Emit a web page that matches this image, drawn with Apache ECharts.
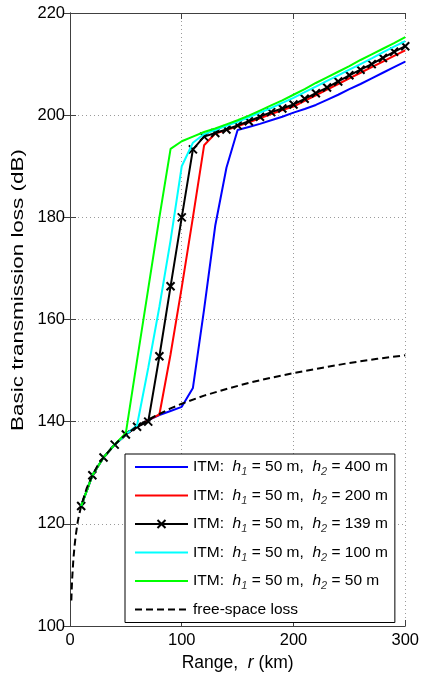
<!DOCTYPE html>
<html>
<head>
<meta charset="utf-8">
<script src="https://cdn.jsdelivr.net/npm/echarts@6/dist/echarts.min.js"></script>
<style>
  html, body { margin: 0; padding: 0; background: #fff; }
  #main { width: 422px; height: 677px; }
</style>
</head>
<body>
<div id="main"></div>
<script>
// range grid of the ITM curves (km)
const rangeKm = [10, 20, 30, 40, 50, 60, 70, 80, 90, 100, 110, 120, 130, 140, 150,
  160, 170, 180, 190, 200, 210, 220, 230, 240, 250, 260, 270, 280, 290, 300]

// basic transmission loss (dB), h1 = 50 m
const lossH400 = [123.5, 129.5, 133, 135.5, 137.5, 139, 140.3, 141.3, 142.1, 142.9, 146.6, 162, 178.4, 189.7, 197.1,
  197.7, 198.3, 199, 199.7, 200.5, 201.2, 202, 203, 204, 205.1, 206.1, 207.2, 208.3, 209.4, 210.5]
const lossH200 = [123.5, 129.5, 133, 135.5, 137.5, 139, 140.3, 141.4, 153.2, 166.3, 180, 194.1, 196.4, 197.1, 197.8,
  198.6, 199.4, 200.2, 201, 201.7, 202.8, 203.9, 205, 206.1, 207.2, 208.3, 209.4, 210.5, 211.6, 212.7]
const lossH139 = [123.5, 129.5, 133, 135.5, 137.5, 139, 140, 152.8, 166.5, 180, 193.3, 195.8, 196.5, 197.2, 198,
  198.8, 199.7, 200.6, 201.3, 202.1, 203.2, 204.3, 205.4, 206.6, 207.8, 208.9, 210, 211.2, 212.4, 213.5]
const lossH100 = [123.5, 129.5, 133, 135.5, 137.5, 139.3, 150.5, 162.5, 175.5, 190, 194.6, 196.3, 197.1, 197.9, 198.7,
  199.6, 200.5, 201.4, 202.4, 203.4, 204.5, 205.6, 206.7, 207.8, 208.9, 210, 211.1, 212.3, 213.4, 214.5]
const lossH50 = [123.5, 129.5, 133, 135.5, 137.8, 152, 166, 180, 193.4, 194.9, 195.8, 196.7, 197.4, 198.2, 199,
  199.9, 200.9, 201.9, 202.9, 204, 205.1, 206.3, 207.4, 208.5, 209.6, 210.8, 211.9, 213, 214.1, 215.3]

// free-space loss
const fsRange = [1.2, 1.5, 2, 3, 4, 5, 6, 7, 8, 10, 15, 20, 25, 30, 40, 50, 60, 70, 80, 90, 100,
  120, 140, 160, 180, 200, 225, 250, 275, 300]
const fsLoss = [105, 107, 109.5, 113, 115.5, 117.5, 119, 120.5, 121.6, 123.5, 127, 129.5, 131.5, 133, 135.5, 137.5,
  139.1, 140.4, 141.5, 142.6, 143.5, 145.1, 146.4, 147.6, 148.6, 149.5, 150.5, 151.5, 152.3, 153]

const h2Labels = ['400', '200', '139', '100', '50']
const itmSeries = [lossH400, lossH200, lossH139, lossH100, lossH50]
const colors = ['#0000ff', '#ff0000', '#000000', '#00ffff', '#00ff00']

const FONT = 'Liberation Sans, Arial, sans-serif'
const pair = (xs, ys) => xs.map((x, i) => [x, ys[i]])

const series = itmSeries.map(function (vals, k) {
  const s = {
    name: 'h2=' + h2Labels[k],
    type: 'line',
    data: pair(rangeKm, vals),
    symbol: 'none',
    lineStyle: { width: 2, color: colors[k] },
    itemStyle: { color: colors[k] },
    z: 2 + k
  }
  if (h2Labels[k] === '139') {
    s.symbol = 'path://M0,0L10,10M10,0L0,10'
    s.symbolSize = 8
    s.showSymbol = true
    s.itemStyle = { color: '#000', borderColor: '#000', borderWidth: 2 }
  }
  return s
})
series.push({
  name: 'fs',
  type: 'line',
  data: pair(fsRange, fsLoss),
  symbol: 'none',
  lineStyle: { width: 2, color: '#000', type: [7, 4] },
  itemStyle: { color: '#000' },
  z: 10
})

// legend entries: hide the default round symbol on plain lines
const legendData = series.map(function (s) {
  if (s.name === 'h2=139') return { name: s.name }
  return { name: s.name, itemStyle: { opacity: 0 } }
})

const axisLine = { show: true, lineStyle: { color: '#404040', width: 1 } }
const tick = { show: true, inside: true, length: 6, lineStyle: { color: '#404040' } }
const grid = { show: true, lineStyle: { color: '#9a9a9a', type: [1, 3], width: 1 } }

const myChart = echarts.init(document.getElementById('main'))
const option = {
  backgroundColor: '#fff',
  animation: false,
  textStyle: { fontFamily: FONT },
  grid: { left: 70, right: 14, top: 13, bottom: 50 },
  xAxis: [{
    type: 'value', min: 0, max: 300, interval: 100, position: 'bottom',
    axisLine: axisLine, axisTick: tick, splitLine: grid,
    axisLabel: { color: '#000', fontSize: 16.5, fontFamily: FONT, margin: 6 },
    name: 'Range,  {i|r} (km)', nameLocation: 'middle', nameGap: 28,
    nameTextStyle: {
      color: '#000', fontSize: 17.5, fontFamily: FONT,
      rich: { i: { fontStyle: 'italic', fontSize: 17.5, fontFamily: FONT, color: '#000' } }
    }
  }, {
    type: 'value', min: 0, max: 300, interval: 100, position: 'top',
    axisLine: axisLine, axisTick: tick, splitLine: { show: false }, axisLabel: { show: false }
  }],
  yAxis: [{
    type: 'value', min: 100, max: 220, interval: 20, position: 'left',
    axisLine: axisLine, axisTick: tick, splitLine: grid,
    axisLabel: { color: '#000', fontSize: 16.5, fontFamily: FONT, margin: 5 }
  }, {
    type: 'value', min: 100, max: 220, interval: 20, position: 'right',
    axisLine: axisLine, axisTick: tick, splitLine: { show: false }, axisLabel: { show: false }
  }],
  // y-axis title (stretched along its length like the original figure)
  graphic: [{
    type: 'text',
    x: 18, y: 290,
    rotation: Math.PI / 2,
    scaleX: 1.32,
    style: {
      text: 'Basic transmission loss (dB)',
      fontSize: 17, fontFamily: FONT, fill: '#000',
      align: 'center', verticalAlign: 'middle'
    }
  }],
  legend: {
    orient: 'vertical',
    left: 125, top: 454,
    selectedMode: false,
    itemWidth: 53, itemHeight: 10, itemGap: 10,
    padding: [5, 7, 5, 9],
    backgroundColor: '#fff',
    borderColor: '#000', borderWidth: 1, borderRadius: 0,
    data: legendData,
    formatter: function (name) {
      if (name === 'fs') return '{t|free-space loss}'
      const h2 = name.split('=')[1]
      return '{t|ITM:  }{i|h}{s|1}{t| = 50 m,  }{i|h}{s|2}{t| = ' + h2 + ' m}'
    },
    textStyle: {
      color: '#000', fontSize: 15.5, fontFamily: FONT,
      rich: {
        t: { fontSize: 15.5, fontFamily: FONT, color: '#000' },
        i: { fontSize: 15.5, fontFamily: FONT, color: '#000', fontStyle: 'italic' },
        s: { fontSize: 11, fontFamily: FONT, color: '#333', fontStyle: 'italic', padding: [10, 0, 0, 0] }
      }
    }
  },
  series: series
}
myChart.setOption(option)
</script>
</body>
</html>
